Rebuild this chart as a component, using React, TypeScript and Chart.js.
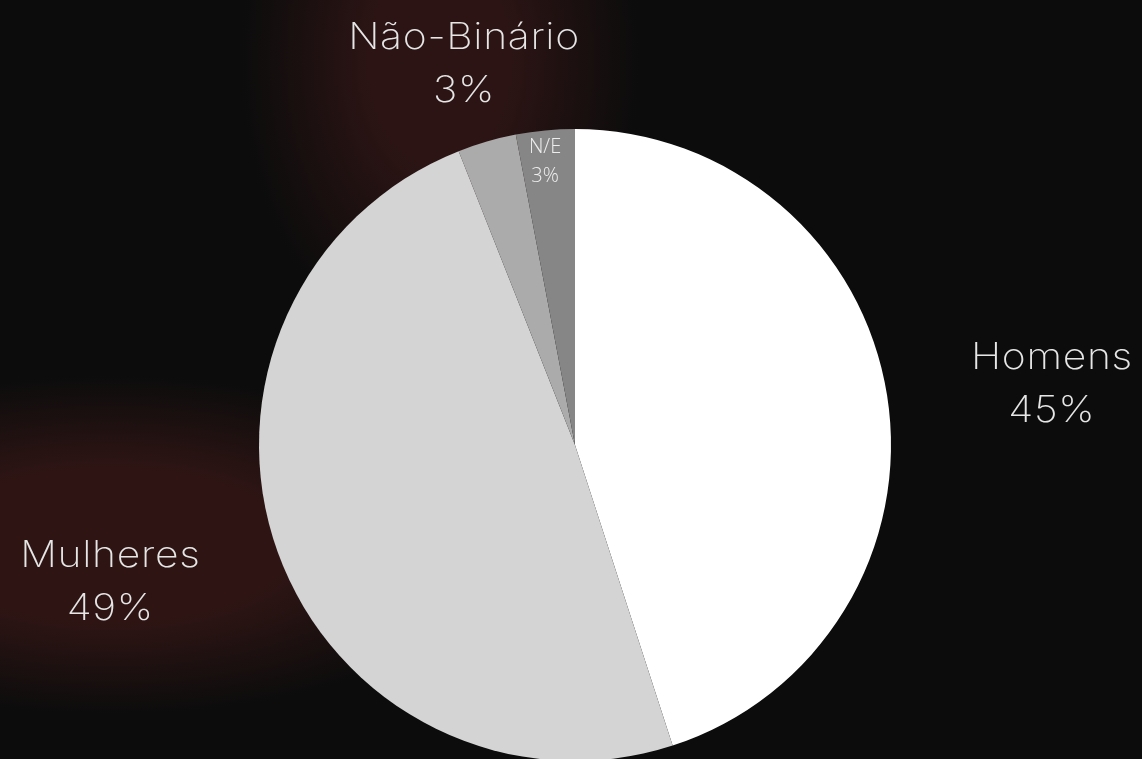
import React, { useEffect, useRef } from "react";
import { Chart, registerables } from "chart.js";

Chart.register(...registerables);

const categories = ["Homens", "Mulheres", "Não-Binário", "N/E"];
const shares = [45, 49, 3, 3];
const percentLabels = ["45%", "49%", "3%", "3%"];
const sliceColors = ["#ffffff", "#d4d4d4", "#ababab", "#868686"];

// label placement: radial distance as a fraction of the outer radius, plus a small nudge
const labelStyle = [
  { dist: 1.527, dx: 0, dy: 12, big: true },
  { dist: 1.564, dx: 0, dy: -32, big: true },
  { dist: 1.263, dx: 0, dy: 0, big: true },
  { dist: 0.905, dx: -3, dy: 0, big: false },
];

const labelPlugin = {
  id: "sliceLabels",
  afterDatasetsDraw(chart: any) {
    const ctx = chart.ctx as CanvasRenderingContext2D;
    const meta = chart.getDatasetMeta(0);
    meta.data.forEach((arc: any, i: number) => {
      const p = arc.getProps(["x", "y", "startAngle", "endAngle", "outerRadius"], true);
      const mid = (p.startAngle + p.endAngle) / 2;
      const st = labelStyle[i];
      const cx = p.x + Math.cos(mid) * p.outerRadius * st.dist + st.dx;
      const cy = p.y + Math.sin(mid) * p.outerRadius * st.dist + st.dy;
      ctx.save();
      ctx.textAlign = "center";
      ctx.textBaseline = "alphabetic";
      if (st.big) {
        ctx.translate(cx, cy);
        ctx.scale(1.12, 1);
        ctx.font = "200 36.5px Inter, 'Open Sans', sans-serif";
        (ctx as any).letterSpacing = "0.6px";
        ctx.fillStyle = "#e6e6e6";
        ctx.fillText(categories[i], 0.3, -13);
        ctx.fillText(percentLabels[i], 0.3, 40);
      } else {
        ctx.font = "300 20px 'Open Sans', sans-serif";
        (ctx as any).letterSpacing = "0px";
        ctx.fillStyle = "#eeeeee";
        ctx.fillText(categories[i], cx, cy - 7);
        ctx.fillText(percentLabels[i], cx, cy + 22);
      }
      ctx.restore();
    });
  },
};

export default function App() {
  const ref = useRef<HTMLCanvasElement>(null);
  useEffect(() => {
    document.documentElement.style.overflow = "hidden";
    document.body.style.overflow = "hidden";
    const chart = new Chart(ref.current!, {
      type: "pie",
      data: {
        labels: categories,
        datasets: [
          {
            data: shares,
            backgroundColor: sliceColors,
            borderWidth: 0,
          },
        ],
      },
      options: {
        responsive: false,
        animation: false,
        radius: 316,
        layout: { padding: { left: 8 } },
        plugins: {
          legend: { display: false },
          tooltip: { enabled: false },
        },
      } as any,
      plugins: [labelPlugin],
    });
    return () => chart.destroy();
  }, []);

  return (
    <div
      style={{
        position: "fixed",
        left: 0,
        top: 0,
        width: 1142,
        height: 890,
        background:
          "radial-gradient(ellipse 200px 300px at 440px 60px, rgba(44,20,20,1) 35%, rgba(44,20,20,0) 100%)," +
          "radial-gradient(ellipse 400px 170px at 110px 545px, rgba(46,21,20,1) 45%, rgba(46,21,20,0) 100%)," +
          "#0c0c0c",
      }}
    >
      <canvas ref={ref} width={1142} height={890} style={{ display: "block" }} />
    </div>
  );
}
